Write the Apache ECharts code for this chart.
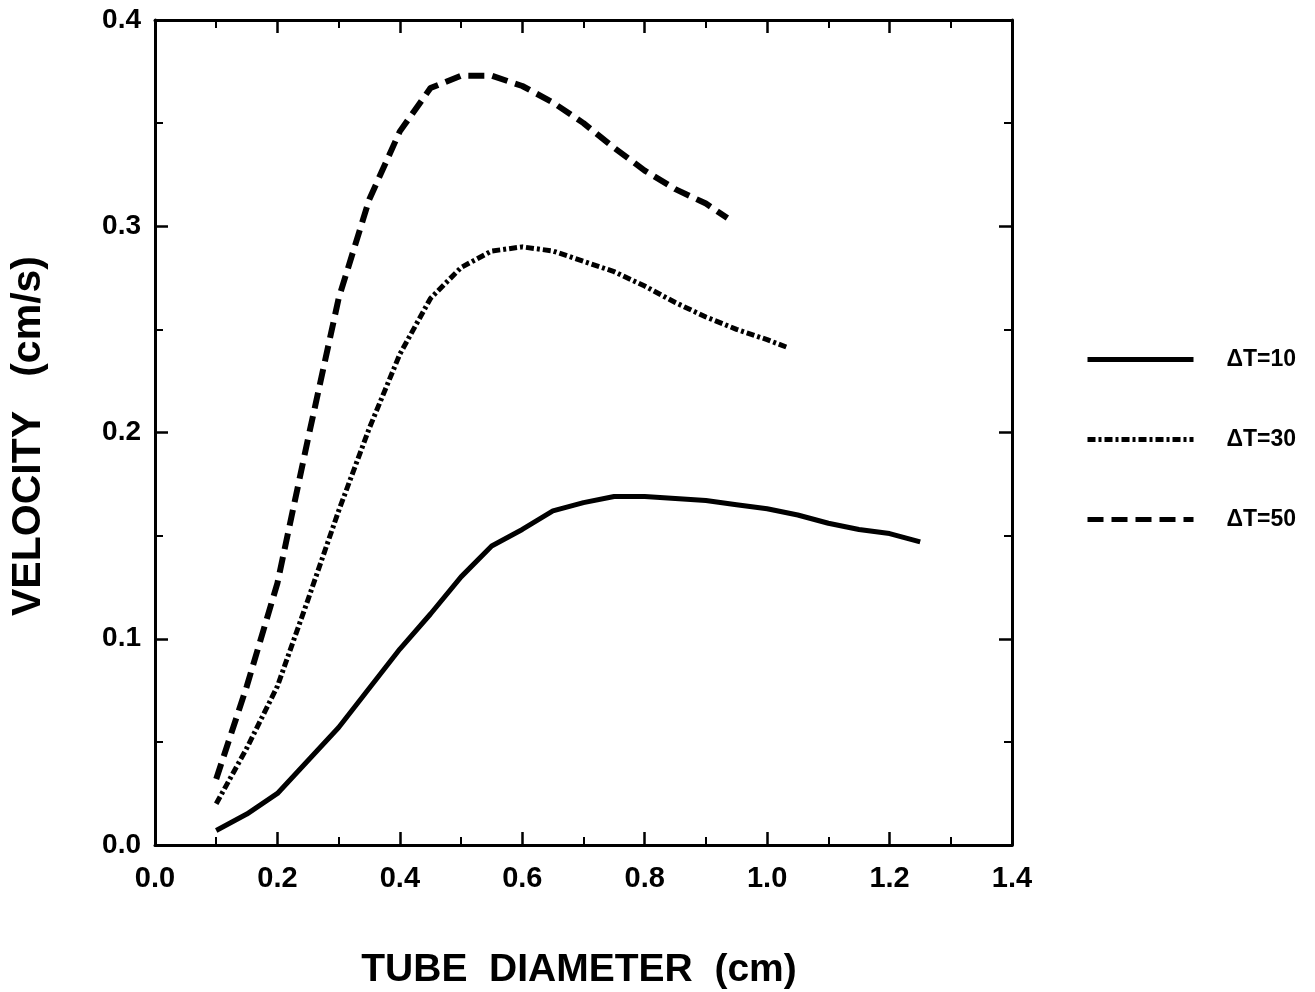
<!DOCTYPE html>
<html>
<head>
<meta charset="utf-8">
<script src="https://cdn.jsdelivr.net/npm/echarts@6/dist/echarts.min.js"></script>
<style>
html,body{margin:0;padding:0;background:#fff;}
#chart{width:1315px;height:992px;}
</style>
</head>
<body>
<div id="chart"></div>
<script>
// Tube diameter (cm) and velocity (cm/s) for each temperature difference
const d10 = [0.10,0.15,0.20,0.25,0.30,0.35,0.40,0.45,0.50,0.55,0.60,0.65,0.70,0.75,0.80,0.85,0.90,0.95,1.00,1.05,1.10,1.15,1.20,1.25];
const v10 = [0.007,0.015,0.025,0.041,0.057,0.076,0.095,0.112,0.130,0.145,0.153,0.162,0.166,0.169,0.169,0.168,0.167,0.165,0.163,0.160,0.156,0.153,0.151,0.147];

const d30 = [0.10,0.15,0.20,0.25,0.30,0.35,0.40,0.45,0.50,0.55,0.60,0.65,0.70,0.75,0.80,0.85,0.90,0.95,1.00,1.035];
const v30 = [0.020,0.047,0.077,0.119,0.162,0.202,0.238,0.265,0.280,0.288,0.290,0.288,0.283,0.278,0.271,0.263,0.256,0.250,0.245,0.241];

const d50 = [0.10,0.15,0.20,0.25,0.30,0.35,0.40,0.45,0.50,0.55,0.60,0.65,0.70,0.75,0.80,0.85,0.90,0.935];
const v50 = [0.032,0.077,0.127,0.197,0.265,0.313,0.346,0.367,0.373,0.373,0.368,0.360,0.350,0.338,0.327,0.318,0.311,0.304];

const seriesNames = ['\u0394T=10','\u0394T=30','\u0394T=50'];
const xTickLabels = ['0.0','0.2','0.4','0.6','0.8','1.0','1.2','1.4'];
const yTickLabels = ['0.0','0.1','0.2','0.3','0.4'];
const xTitle = 'TUBE  DIAMETER  (cm)';
const yTitle = 'VELOCITY   (cm/s)';

const FONT = '"Liberation Sans", Arial, Helvetica, sans-serif';
const chart = echarts.init(document.getElementById('chart'), null, {renderer:'canvas'});

function axisCommon(){
  return {
    axisLine:{show:true, onZero:false, lineStyle:{color:'#000', width:3}},
    axisTick:{show:true, inside:true, length:13, lineStyle:{color:'#000', width:2.5}},
    minorTick:{show:true, splitNumber:2, length:8, lineStyle:{color:'#000', width:2}},
    splitLine:{show:false},
    axisLabel:{show:false}
  };
}

const option = {
  animation:false,
  backgroundColor:'#fff',
  grid:{left:155, right:303, top:20, bottom:147, containLabel:false},
  xAxis:[
    Object.assign({type:'value', position:'bottom', min:0, max:1.4, interval:0.2}, axisCommon(),
      {axisLabel:{show:true, color:'#000', fontFamily:FONT, fontSize:29, fontWeight:'bold', margin:19,
        formatter: v => xTickLabels[Math.round(v/0.2)]}}),
    Object.assign({type:'value', position:'top', min:0, max:1.4, interval:0.2}, axisCommon())
  ],
  yAxis:[
    Object.assign({type:'value', position:'left', min:0, max:0.4, interval:0.1}, axisCommon(),
      {axisLabel:{show:true, color:'#000', fontFamily:FONT, fontSize:28, fontWeight:'bold', margin:14,
        formatter: v => yTickLabels[Math.round(v/0.1)]}}),
    Object.assign({type:'value', position:'right', min:0, max:0.4, interval:0.1}, axisCommon())
  ],
  legend:{
    orient:'vertical', left:1080, top:343,
    itemWidth:106, itemHeight:22, itemGap:57,
    data:seriesNames,
    lineStyle:{width:5},
    itemStyle:{opacity:0},
    textStyle:{color:'#000', fontFamily:FONT, fontSize:23, fontWeight:'bold', padding:[0,0,0,28]}
  },
  graphic:[
    {type:'text', x:579, y:970, style:{text:xTitle, font:'bold 39px ' + FONT, fill:'#000', textAlign:'center', textVerticalAlign:'middle'}},
    {type:'text', x:29, y:436, rotation:Math.PI/2, style:{text:yTitle, font:'bold 41px ' + FONT, fill:'#000', textAlign:'center', textVerticalAlign:'middle'}}
  ],
  series:[
    {name:seriesNames[0], type:'line', xAxisIndex:0, yAxisIndex:0, showSymbol:false, symbol:'none',
     itemStyle:{color:'#000'},
     lineStyle:{color:'#000', width:5, type:'solid', cap:'butt', join:'round'},
     data:d10.map((d,i)=>[d, v10[i]])},
    {name:seriesNames[1], type:'line', xAxisIndex:0, yAxisIndex:0, showSymbol:false, symbol:'none',
     itemStyle:{color:'#000'},
     lineStyle:{color:'#000', width:5, type:[8,3,3,3], cap:'butt', join:'round'},
     data:d30.map((d,i)=>[d, v30[i]])},
    {name:seriesNames[2], type:'line', xAxisIndex:0, yAxisIndex:0, showSymbol:false, symbol:'none',
     itemStyle:{color:'#000'},
     lineStyle:{color:'#000', width:6, type:[16,8], cap:'butt', join:'round'},
     data:d50.map((d,i)=>[d, v50[i]])}
  ]
};
chart.setOption(option);
</script>
</body>
</html>
